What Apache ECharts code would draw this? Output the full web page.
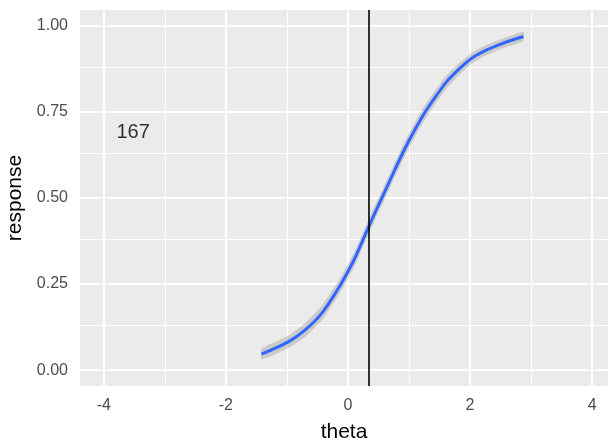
<!DOCTYPE html>
<html>
<head>
<meta charset="utf-8">
<script src="https://cdn.jsdelivr.net/npm/echarts@6/dist/echarts.min.js"></script>
<style>html,body{margin:0;padding:0;background:#fff}#c{width:608px;height:441px}</style>
</head>
<body>
<div id="c"></div>
<script>
// ---- data ----
var theta    = [-1.415, -0.978, -0.705, -0.431, -0.159, 0.005, 0.115, 0.279, 0.361, 0.497, 0.634, 0.716, 0.852, 1.016, 1.234, 1.398, 1.618, 1.836, 2.028, 2.274, 2.546, 2.874];
var response = [0.0465, 0.082, 0.116, 0.165, 0.237, 0.288, 0.326, 0.392, 0.425, 0.478, 0.530, 0.562, 0.614, 0.672, 0.741, 0.785, 0.838, 0.877, 0.906, 0.930, 0.950, 0.969];
var bandHalf = [0.016, 0.018, 0.020, 0.021, 0.021, 0.021, 0.021, 0.021, 0.021, 0.021, 0.021, 0.021, 0.021, 0.021, 0.021, 0.020, 0.019, 0.017, 0.016, 0.015, 0.014, 0.014];
var vlineTheta = [0.344];
var annotation = {label: '167', theta: -3.52, response: 0.69};
var xTicks = [-4, -2, 0, 2, 4];
var xTickLabels = ['-4', '-2', '0', '2', '4'];
var xMinor = [-3, -1, 1, 3];
var yTicks = [0, 0.25, 0.5, 0.75, 1];
var yTickLabels = ['0.00', '0.25', '0.50', '0.75', '1.00'];
var yMinor = [0.125, 0.375, 0.625, 0.875];
var xRange = [-4.39, 4.26];
var yRange = [-0.046, 1.046];

// ---- build ----
var FONT = '"Liberation Sans", Arial, sans-serif';
var bandData = theta.map(function (t, i) { return [t, response[i] - bandHalf[i], response[i] + bandHalf[i]]; });
var curve = theta.map(function (t, i) { return [t, response[i]]; });

var gridLines = [];
xMinor.forEach(function (v) { gridLines.push({xAxis: v, lineStyle: {color: '#ffffff', width: 1, type: 'solid'}}); });
yMinor.forEach(function (v) { gridLines.push({yAxis: v, lineStyle: {color: '#ffffff', width: 1, type: 'solid'}}); });
xTicks.forEach(function (v) { gridLines.push({xAxis: v, lineStyle: {color: '#ffffff', width: 2, type: 'solid'}}); });
yTicks.forEach(function (v) { gridLines.push({yAxis: v, lineStyle: {color: '#ffffff', width: 2, type: 'solid'}}); });

function renderBand(params, api) {
  if (params.dataIndex !== 0) return null;
  var up = [], lo = [];
  for (var i = 0; i < bandData.length; i++) {
    up.push(api.coord([bandData[i][0], bandData[i][2]]));
    lo.push(api.coord([bandData[i][0], bandData[i][1]]));
  }
  return {
    type: 'polygon',
    shape: {points: up.concat(lo.reverse()), smooth: 0.15},
    style: {fill: 'rgba(153,153,153,0.4)', stroke: 'none'}
  };
}

var chart = echarts.init(document.getElementById('c'), null, {renderer: 'canvas'});
chart.setOption({
  animation: false,
  grid: {left: 80, right: 0, top: 10, bottom: 55, show: true, backgroundColor: '#EBEBEB', borderWidth: 0,
         containLabel: false, outerBoundsMode: 'none'},
  xAxis: {
    type: 'value', min: xRange[0], max: xRange[1],
    name: 'theta', nameLocation: 'middle', nameGap: 36,
    nameTextStyle: {color: '#000', fontSize: 21, fontFamily: FONT},
    axisLine: {show: false},
    splitLine: {show: false},
    axisTick: {show: true, customValues: xTicks, length: 5, lineStyle: {color: '#333', width: 1}},
    axisLabel: {
      customValues: xTicks, margin: 12, color: '#4D4D4D', fontSize: 16, fontFamily: FONT,
      formatter: function (v) { var i = xTicks.indexOf(v); return i >= 0 ? xTickLabels[i] : ''; }
    }
  },
  yAxis: {
    type: 'value', min: yRange[0], max: yRange[1],
    name: 'response', nameLocation: 'middle', nameGap: 50, nameRotate: 90,
    nameTextStyle: {color: '#000', fontSize: 21, fontFamily: FONT},
    axisLine: {show: false},
    splitLine: {show: false},
    axisTick: {show: true, customValues: yTicks, length: 5, lineStyle: {color: '#333', width: 1}},
    axisLabel: {
      customValues: yTicks, margin: 12, color: '#4D4D4D', fontSize: 16, fontFamily: FONT,
      formatter: function (v) { var i = yTicks.indexOf(v); return i >= 0 ? yTickLabels[i] : ''; }
    }
  },
  series: [
    {
      type: 'line', data: [], silent: true, z: 1,
      markLine: {z: 1, silent: true, symbol: ['none', 'none'], label: {show: false}, animation: false, data: gridLines}
    },
    {
      type: 'custom', data: bandData, renderItem: renderBand, silent: true, z: 2,
      encode: {x: 0, y: [1, 2]}, clip: true
    },
    {
      type: 'line', data: curve, symbol: 'none', silent: true, z: 3, smooth: 0.3,
      lineStyle: {color: '#3366FF', width: 3}
    },
    {
      type: 'line', data: [], silent: true, z: 4,
      markLine: {
        z: 6, silent: true, symbol: ['none', 'none'], label: {show: false}, animation: false,
        data: vlineTheta.map(function (v) { return {xAxis: v, lineStyle: {color: '#000', width: 1.6, type: 'solid'}}; })
      }
    },
    {
      type: 'scatter', data: [[annotation.theta, annotation.response]], symbolSize: 0, silent: true, z: 7,
      label: {show: true, position: 'inside', formatter: annotation.label, color: '#000', fontSize: 20, fontFamily: FONT}
    }
  ]
});
</script>
</body>
</html>
